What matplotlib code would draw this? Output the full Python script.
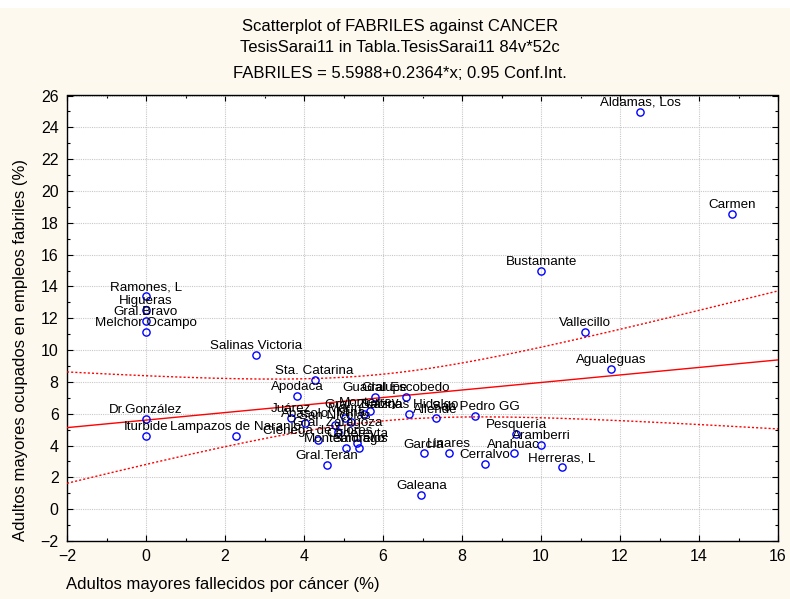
import numpy as np
import matplotlib
matplotlib.use("Agg")
import matplotlib.pyplot as plt
from matplotlib.patches import Rectangle
from matplotlib.ticker import MultipleLocator

plt.rcParams['font.family'] = ['Liberation Sans', 'DejaVu Sans']

# ---------------- data ----------------
names = ["Aldamas, Los", "Carmen", "Bustamante", "Vallecillo", "Agualeguas",
         "Ramones, L", "Higueras", "Gral.Bravo", "Melchor Ocampo",
         "Salinas Victoria", "Sta. Catarina", "Apodaca", "Dr.González",
         "Iturbide", "Lampazos de Naranjo", "Juárez", "Guadalupe",
         "Gral.Escobedo", "Sabinas Hidalgo", "Allende", "San Pedro GG",
         "Pesquería", "Aramberri", "Anahuac", "Cerralvo", "Herreras, L",
         "García", "Linares", "Galeana", "Gral.Terán", "Monterrey",
         "Gral. Zuazua", "Mina", "San Nicolás", "Marín", "Gral. Zaragoza",
         "Cadereyta", "Ciénega de Flores", "Montemorelos", "Santiago",
         "Abasolo"]
cancer = [12.51, 14.83, 10.01, 11.12, 11.78,
          0.0, 0.0, 0.0, 0.0,
          2.78, 4.27, 3.82, 0.0,
          0.0, 2.27, 3.66, 5.80,
          6.57, 6.67, 7.33, 8.34,
          9.37, 10.0, 9.31, 8.58, 10.53,
          7.03, 7.67, 6.97, 4.58, 5.66,
          5.52, 5.20, 4.78, 5.03, 4.86,
          5.34, 4.35, 5.07, 5.39,
          4.02]
fabriles = [24.98, 18.53, 15.0, 11.11, 8.84,
            13.39, 12.51, 11.84, 11.13,
            9.72, 8.15, 7.10, 5.65,
            4.58, 4.58, 5.74, 7.08,
            7.08, 5.97, 5.70, 5.84,
            4.75, 4.02, 3.50, 2.87, 2.65,
            3.50, 3.53, 0.87, 2.76, 6.14,
            5.97, 5.51, 5.30, 5.72, 4.88,
            4.14, 4.35, 3.87, 3.83,
            5.42]
intercept = 5.5988
slope = 0.2364
conf = 0.95

title_lines = ["Scatterplot of FABRILES against CANCER",
               "TesisSarai11 in Tabla.TesisSarai11 84v*52c",
               "FABRILES = 5.5988+0.2364*x; 0.95 Conf.Int."]
xlabel = "Adultos mayores fallecidos por cáncer (%)"
ylabel = "Adultos mayores ocupados en empleos fabriles (%)"

# ---------------- figure ----------------
W, H = 790, 599
bg = '#fdf9ef'
fig = plt.figure(figsize=(W / 100, H / 100), dpi=100, facecolor=bg)
fig.add_artist(Rectangle((0, 1 - 8 / H), 1, 8 / H, transform=fig.transFigure,
                         facecolor='white', edgecolor='none', zorder=-5))

L, R, T, B = 67, 778, 95.5, 541
ax = fig.add_axes([L / W, 1 - B / H, (R - L) / W, (B - T) / H])
ax.set_facecolor('white')

x = np.array(cancer)
y = np.array(fabriles)

ax.set_xlim(-2, 16)
ax.set_ylim(-2, 26)
ax.xaxis.set_major_locator(MultipleLocator(2))
ax.xaxis.set_minor_locator(MultipleLocator(1))
ax.yaxis.set_major_locator(MultipleLocator(2))
ax.yaxis.set_minor_locator(MultipleLocator(1))
ax.grid(True, which='major', color='#c8c8c8', linestyle=(0, (1, 1)), linewidth=0.8)
ax.set_axisbelow(True)
ax.tick_params(which='both', direction='in', top=True, right=True, width=0.8)
ax.tick_params(which='major', length=4, labelsize=11.5)
ax.tick_params(axis='y', which='major', pad=6)
ax.tick_params(axis='x', which='major', pad=6)
ax.tick_params(which='minor', length=2)
for s in ax.spines.values():
    s.set_linewidth(1.0)
    s.set_color('black')

# regression line and confidence band
xs = np.linspace(-2, 16, 200)
yfit = intercept + slope * xs
n = len(x)
resid = y - (intercept + slope * x)
s_err = np.sqrt(np.sum(resid ** 2) / (n - 2))
xbar = x.mean()
sxx = np.sum((x - xbar) ** 2)
tval = 2.02
hw = tval * s_err * np.sqrt(1.0 / n + (xs - xbar) ** 2 / sxx)
ax.plot(xs, yfit, color='red', linewidth=1.0, zorder=3)
ax.plot(xs, yfit + hw, color='red', linewidth=1.0, linestyle=(0, (1.5, 1.5)), zorder=3)
ax.plot(xs, yfit - hw, color='red', linewidth=1.0, linestyle=(0, (1.5, 1.5)), zorder=3)

ax.plot(x, y, linestyle='none', marker='o', markersize=5.2, markeredgewidth=1.0,
        markerfacecolor='none', markeredgecolor='#0000ff', zorder=4)
for nm, xi, yi in zip(names, x, y):
    ax.annotate(nm, (xi, yi), xytext=(0, 4.3), textcoords='offset points',
                ha='center', va='baseline', fontsize=9.6, color='black',
                zorder=5, annotation_clip=False)

# titles and labels
ty = [26, 48, 74]
for t, yy in zip(title_lines, ty):
    fig.text(400 / W, 1 - yy / H, t, ha='center', va='center', fontsize=12)
fig.text(66 / W, 1 - 584 / H, xlabel, ha='left', va='center', fontsize=12)
fig.text(21 / W, 1 - B / H, ylabel, rotation=90, ha='center', va='bottom', fontsize=12)

fig.savefig('out.png', dpi=100, facecolor=bg)
